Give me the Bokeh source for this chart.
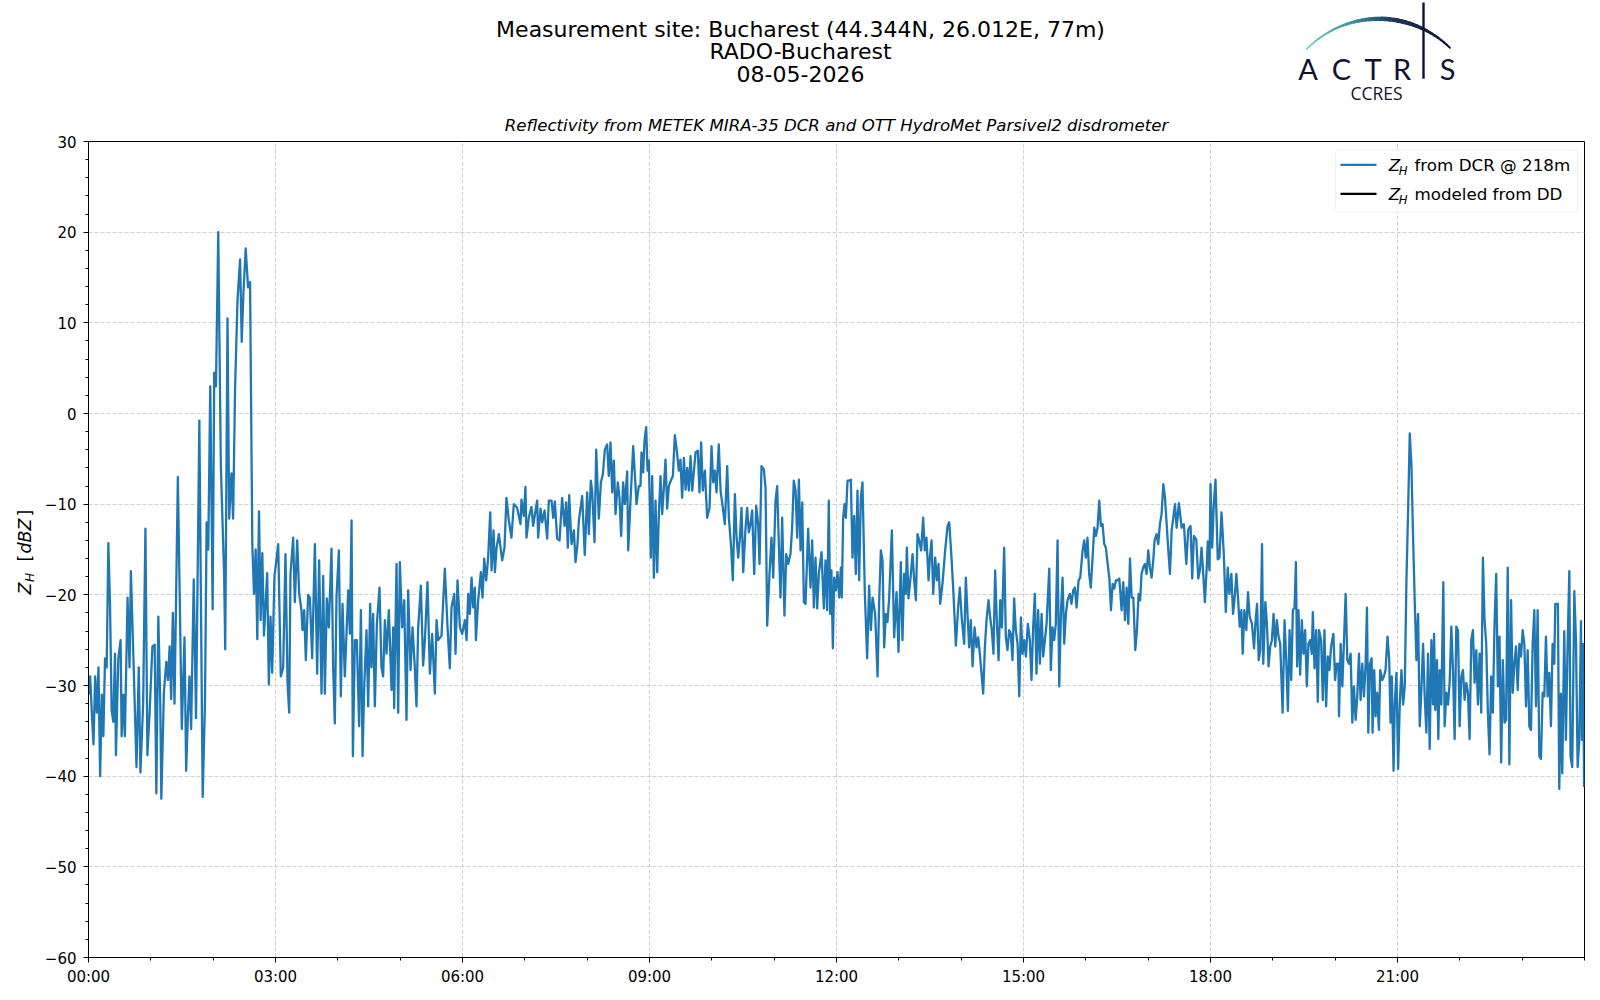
import numpy as np
from bokeh.plotting import figure
from bokeh.models import Range1d, FixedTicker, Label, BoxAnnotation
from bokeh.layouts import column, row
from bokeh.embed import file_html
from bokeh.resources import INLINE
from bokeh.core.properties import value

FONT = "DejaVu Sans"
BLUE = "#1f77b4"

TITLE_LINES = ["Measurement site: Bucharest (44.344N, 26.012E, 77m)", "RADO-Bucharest", "08-05-2026"]
SUBTITLE = "Reflectivity from METEK MIRA-35 DCR and OTT HydroMet Parsivel2 disdrometer"
LEGEND_TEXTS = ["from DCR @ 218m", "modeled from DD"]
LEGEND_COLORS = [BLUE, "black"]

X_TICKS = [0, 3, 6, 9, 12, 15, 18, 21]
X_LABELS = ["00:00", "03:00", "06:00", "09:00", "12:00", "15:00", "18:00", "21:00"]
X_MINOR = list(range(0, 25))
Y_TICKS = [-60, -50, -40, -30, -20, -10, 0, 10, 20, 30]
Y_LABELS = ["\u221260", "\u221250", "\u221240", "\u221230", "\u221220", "\u221210", "0", "10", "20", "30"]
Y_MINOR = list(range(-60, 31, 2))

# ---- Z_H from DCR, time in minutes of day ----
T_00_03 = [0, 1.6, 3.2, 4.8, 6.4, 8, 9.6, 11.2, 12.8, 14.3,
           15.9, 17.5, 19.1, 20.7, 22.3, 23.9, 25.5, 26.4, 28.7, 30.9,
           31.9, 33.5, 35, 37.6, 39.5, 40.8, 43, 46.2, 48.4, 50,
           52.6, 54.8, 56.7, 58.9, 61.5, 63.7, 65.3, 67.2, 69.1, 70.1,
           72.6, 74.9, 76.5, 78.1, 79.6, 81.2, 82.8, 86, 89.8, 92.4,
           94, 95.6, 97.2, 98.8, 101.3, 103.5, 106.7, 109.9, 112.1, 113.7,
           115.3, 117.2, 119.5, 121, 122.7, 124.9, 127.4, 130.6, 131.6, 133.8,
           135.4, 137.6, 139.2, 141.1, 143.4, 145.9, 147.5, 149.1, 151.3, 153.6,
           155.5, 157.7, 159.3, 160.9, 162.5, 164.1, 165.7, 167.3, 168.9, 172,
           173.6, 175.2, 176.8, 179]
Z_00_03 = [-31, -29, -33, -36.5, -29, -33, -28, -40, -31, -35.6,
           -27, -28, -14.3, -21, -32.8, -34, -26.5, -37.7, -27, -25,
           -35.6, -31, -35.6, -20.3, -28, -17.4, -26, -39, -28, -39.6,
           -32, -12.7, -37.7, -32.8, -25.7, -25.5, -41.9, -22.4, -32, -42.5,
           -30.7, -27.4, -29.4, -25.7, -31.5, -22, -32, -7, -34.8, -24.7,
           -39.4, -33.6, -29, -34.8, -18.3, -33.6, -0.8, -42.3, -32, -12,
           -15, 3, -21.6, 4.5, 3, 20, -5.8, -18, -26, 10.5,
           -11.6, -6.6, -11.6, 2.9, 12.4, 17, 7.9, 13.2, 18.2, 13.9,
           14.5, -14.5, -19.9, -15, -24.9, -10.8, -22.8, -15.4, -24.5, -17.6,
           -29.9, -22.4, -28.6, -18]

T_03_06 = [182.6, 185.1, 187.4, 189.6, 191.6, 193.2, 194.4, 197, 198.6, 200.9,
           202.8, 205, 206, 207.6, 209.2, 211.4, 213.1, 215.3, 217.9, 220.1,
           222, 224.3, 225.9, 227.5, 229.4, 231.3, 233.9, 235.5, 237.1, 238.7,
           241, 242.9, 244.5, 246.7, 248.4, 250, 251.6, 253.2, 254.5, 256.4,
           258.3, 260.5, 262.2, 263.8, 265.4, 267.6, 269.2, 271.1, 272.4, 274,
           275.6, 277.6, 280.1, 282, 283.6, 285.3, 286.9, 289.1, 291.7, 293.3,
           294.2, 296.5, 298.1, 299.7, 301.9, 303.9, 306.1, 307.7, 310, 311.9,
           314.1, 315.7, 317.3, 319.9, 322.1, 323.8, 326.3, 328.6, 330.8, 333.4,
           335, 336.6, 339.8, 343, 345.6, 347.8, 349.4, 352, 353.3, 355.2,
           357.5, 359.7, 362.3, 363.9, 365.5, 367.1, 368.7, 370.3, 371.9, 372.9,
           375.1, 377.7, 379.3, 380.9, 382.8, 384.7, 386.7, 388, 389.9, 391.2,
           392.8]
Z_03_06 = [-14.4, -29, -28, -15.5, -29.8, -33, -17.7, -13.7, -20.8, -14,
           -19.9, -21.7, -23.9, -21.7, -27.2, -20, -20.3, -27, -14.4, -28.7,
           -16.2, -30.9, -17.9, -30.9, -20.4, -23.6, -14.9, -28, -34.2, -20.3,
           -15.1, -31.2, -21, -29, -24.1, -19.5, -24.3, -11.8, -37.8, -25,
           -25, -34.5, -21.7, -37.8, -30.1, -23.9, -32.3, -21, -28, -22.1,
           -32.3, -23.2, -19.2, -28, -29, -22.8, -26.5, -21.7, -30.5, -23.6,
           -32.5, -16.6, -33, -16.4, -23.6, -20.6, -33.8, -19.5, -28.3, -23.6,
           -28, -32.3, -23.7, -19, -27.8, -25, -18.6, -28.7, -24.3, -30.9,
           -22.8, -25, -24.5, -17.1, -23.6, -28.1, -21.4, -19.9, -26.5, -18.4,
           -23.6, -24.3, -22.8, -25, -19.9, -22.1, -18.1, -21.4, -19.2, -25,
           -20.6, -17.5, -20.3, -16, -18.4, -15.9, -10.9, -17.3, -12.9, -17.5,
           -14.8]

T_06_12 = [395, 398.2, 400.4, 402.3, 404.6, 407.1, 409.4, 412.6, 415.8, 416.8,
           419, 420.6, 421.6, 423.8, 426.4, 428, 430.3, 431.9, 432.8, 435.1,
           436.7, 439, 441.5, 443.1, 445.7, 447.3, 448.9, 451.1, 453.4, 455.9,
           458.2, 459.8, 461.4, 462.7, 464.9, 467.2, 468.8, 470.7, 472, 475.2,
           477.7, 480, 481.6, 483.5, 484.8, 487.1, 488.7, 491.2, 493.2, 495.1,
           497, 499.2, 500.8, 502.5, 504.1, 505.7, 507.3, 509.5, 511.1, 512.7,
           514.6, 516.3, 518.5, 519.5, 521.7, 524.3, 525.9, 527.5, 529.7, 531.3,
           532.3, 533.9, 535.2, 536.8, 538.1, 539.4, 541.3, 542.6, 544.2, 545.8,
           547.4, 549, 550.6, 552.2, 553.8, 555.4, 557, 558.6, 560.9, 562.5,
           564.4, 566, 568.2, 569.8, 571.4, 573.1, 574.7, 576.3, 577.9, 579.5,
           581.1, 584.3, 586.5, 588.1, 589.7, 591.3, 593.3, 595.5, 597.8, 599.7,
           601.3, 602.9, 604.5, 606.7, 608.4, 610.6, 612.5, 614.8, 616.4, 618.6,
           620.2, 622.2, 623.8, 625.4, 627, 628.6, 630.2, 632.4, 634, 635.6,
           637.2, 638.8, 640.8, 642.7, 644.6, 645.9, 647.8, 650.1, 651.7, 653.3,
           655.5, 657.4, 659.1, 661.3, 662.9, 664.5, 666.1, 667.7, 669.9, 671.6,
           673.5, 675.7, 677.3, 678.9, 680.6, 682.2, 683.8, 685.4, 687, 688.6,
           690.2, 692.7, 695, 696.6, 698.2, 699.8, 701.4, 703, 705.6, 707.8,
           709.4, 711, 712.6]
Z_06_12 = [-13.3, -16.2, -14.8, -9.3, -11.8, -13.7, -10, -10.4, -12.2, -9.5,
           -11.3, -8.1, -13.7, -11.5, -10.3, -12.4, -10.7, -9.6, -13.7, -10.5,
           -12, -10.7, -13.8, -9.6, -9.6, -11.5, -9.7, -13.8, -14, -9.3,
           -12.4, -9.8, -14.8, -9, -14.4, -12.9, -16.4, -14.4, -11.8, -9.1,
           -15.6, -8.7, -13.3, -7.4, -8.5, -14.2, -4, -11.6, -7.6, -6.7,
           -4, -3.4, -6.9, -3.2, -8.7, -5.2, -11.1, -7.6, -9.3, -13.5,
           -7.6, -10, -6.4, -15.1, -9.6, -3.6, -6.7, -10, -8, -8,
           -4.3, -6.5, -3, -1.5, -6.3, -5.2, -15.9, -6.9, -18.1, -9.6,
           -17.5, -11.1, -6.9, -11.1, -8.2, -5.1, -10.5, -8, -7.3, -6.9,
           -2.4, -3.8, -6.3, -5.1, -9.3, -4.9, -8.4, -6, -8.5, -4.7,
           -8.5, -4.3, -4.1, -8.7, -3.2, -8.5, -6.3, -11.5, -10.4, -3.6,
           -7.6, -6.3, -8.7, -3.4, -8.5, -10.4, -12.2, -5.8, -11.5, -14.8,
           -18.4, -8.9, -13.7, -15.9, -13.7, -10.4, -17.5, -12.7, -10.4, -13.1,
           -12.2, -10.7, -17.7, -10.2, -12.2, -16.6, -5.8, -6.2, -8.2, -23.4,
           -17.7, -13.7, -18.1, -9.6, -8, -14.4, -20.3, -11.5, -22.3, -15.5,
           -16.6, -15.5, -12.6, -7.4, -8.5, -13.7, -7.3, -15.1, -9.8, -20.8,
           -21, -12.7, -19.2, -14, -21.4, -15.9, -21.5, -17.7, -15.3, -21.5,
           -16.2, -21.7, -9.6]

T_12_17 = [713.9, 715.1, 716.5, 717.8, 719.4, 721, 722.6, 724.2, 725.1, 726.4,
           727.7, 729, 730.6, 732.2, 733.8, 735.4, 737, 738.6, 740.2, 741.8,
           743.4, 745, 747.3, 749.5, 751.4, 753.1, 754.7, 757.2, 759.5, 761.1,
           762.7, 764.3, 765.9, 767.5, 769.1, 770.7, 773.3, 775.5, 777.8, 779.7,
           781.9, 783.5, 785.1, 786.7, 787.7, 789.3, 791.6, 793.2, 794.8, 796.4,
           798, 799.6, 801.5, 803.4, 805, 806.6, 808.6, 809.9, 811.5, 813.1,
           815, 816.6, 818.2, 819.8, 822, 824.6, 826.9, 828.5, 830.7, 832.6,
           834.9, 837.1, 838.7, 840.7, 842.9, 844.5, 846.1, 847.7, 849.3, 851,
           852.9, 854.8, 856.4, 858, 859.6, 861.2, 862.8, 864.4, 866.3, 867.9,
           869.5, 871.1, 872.7, 874.4, 876, 877.6, 879.2, 881.4, 883, 884.6,
           886.2, 887.8, 889.4, 891, 892.6, 894.3, 895.9, 897.5, 899.1, 900.7,
           902.3, 904.2, 906.1, 907.7, 909.3, 910.9, 912.5, 914.1, 915.8, 917.4,
           919, 920.6, 922.2, 924.8, 926.3, 927.9, 929.5, 931.1, 932.8, 934.4,
           936, 937.6, 939.2, 940.8, 942.4, 944.6, 946.2, 947.8, 949.4, 951.1,
           953, 954.6, 956.9, 958.4, 960, 961.6, 963.2, 964.8, 966.5, 968.1,
           969.7, 971.3, 972.9, 974.5, 976.1, 977.7, 979.3, 981, 982.6, 984.2,
           985.8, 987.4, 989, 990.6, 992.2, 994.4, 996, 997.7, 999.3, 1000.9,
           1002.5, 1004.1, 1005.7, 1007.6, 1009.2, 1010.8, 1012.3, 1013.6, 1015.2, 1016.8,
           1018.5, 1020.1, 1021.7, 1023.3, 1024.9, 1026.2, 1028.1, 1029.7, 1031.3, 1032.9,
           1034.6, 1036.2, 1037.8, 1039.4, 1041, 1042.6, 1044.2, 1045.8, 1047.4]
Z_12_17 = [-22.1, -17.3, -25.9, -18.1, -19.5, -17.5, -20.3, -17, -20.3, -11.5,
           -10, -11.5, -7.4, -7.4, -7.3, -15.9, -11.3, -17.7, -8.5, -18.4,
           -9.3, -7.6, -19.9, -27, -19, -23.9, -20.3, -22.1, -29, -20.6,
           -15.1, -16.2, -25.8, -22.1, -23, -20.3, -12.9, -24.7, -19.7, -26.3,
           -16.4, -25, -17.7, -19.9, -14.8, -20.4, -17.7, -15.5, -18.4, -20.6,
           -13.3, -14, -15.1, -11.5, -15.1, -13.7, -18.4, -15.9, -14, -19.9,
           -15.9, -18.4, -16.6, -21, -18.8, -15.1, -12.4, -12, -15.9, -19.9,
           -25.6, -21.4, -19.2, -22.8, -25.4, -18.1, -22.1, -25.8, -22.8, -27.9,
           -23.6, -25.8, -24.7, -26.5, -28.7, -30.9, -25.8, -22.8, -20.6, -22.5,
           -23.9, -26.5, -17.3, -23.2, -27.2, -20.6, -23.6, -14.8, -24.7, -26.1,
           -23.9, -24.3, -27.2, -20.4, -23.9, -25.4, -31.2, -22.5, -26.5, -25,
           -26.8, -23.2, -25, -29.4, -23.6, -19.9, -28.7, -21.7, -27.6, -22.1,
           -26.8, -25, -23.2, -17.1, -28.3, -23.6, -25, -23.2, -14, -30.1,
           -22.1, -18.1, -25.4, -22.1, -20.6, -19.9, -21, -19.5, -19.2, -21.4,
           -18.4, -18.1, -15.1, -14, -15.9, -13.7, -17.7, -19.2, -15.9, -12.6,
           -13.5, -12.6, -9.6, -12.4, -12.2, -14.4, -14.8, -16.6, -18.1, -21.7,
           -18.8, -19.3, -18.4, -18.4, -18.2, -21.7, -18.6, -22.8, -19.2, -23.2,
           -16, -20.3, -20.3, -26.1, -23.9, -19.9, -20.6, -17.7, -17, -16.6,
           -17.7, -15.1, -17, -18.1, -16.2, -14, -13.3, -14.4, -12.2, -11.1,
           -7.8, -9.3, -12.2, -15.1, -17.7, -12.9, -11.5, -10, -12.6]

T_17_24 = [1049.6, 1052.2, 1054.4, 1056.7, 1058.6, 1060.8, 1062.4, 1064, 1066.3, 1068.2,
           1069.8, 1071.4, 1073, 1074.6, 1076.2, 1077.4, 1079, 1080, 1081.6, 1083.2,
           1084.8, 1087, 1088.6, 1090.6, 1092.8, 1094.7, 1096.6, 1098.2, 1100.1, 1101.7,
           1103.3, 1104.9, 1106.5, 1108.1, 1109.7, 1111, 1112.6, 1114.5, 1116.1, 1117.7,
           1119.9, 1121.9, 1123.2, 1124.8, 1126.4, 1128, 1129.6, 1130.8, 1132.8, 1134.3,
           1135.9, 1137.5, 1139.1, 1140.7, 1142.3, 1143.9, 1145.5, 1147.1, 1149.4, 1151.3,
           1152.9, 1154.5, 1156.1, 1157.7, 1159.3, 1160.9, 1162.2, 1163.4, 1164.7, 1166.3,
           1167.9, 1169.5, 1171.1, 1172.7, 1174.3, 1175.9, 1177.5, 1178.5, 1180.1, 1181.7,
           1183.3, 1184.5, 1186.5, 1188.1, 1189.7, 1191.3, 1192.9, 1194.5, 1196.1, 1198.3,
           1199.9, 1201.5, 1203.1, 1203.7, 1205.3, 1206.9, 1208.5, 1210.1, 1211.7, 1213.3,
           1214.9, 1216.5, 1218.1, 1219.7, 1221.3, 1222.9, 1224.5, 1226.1, 1227.7, 1229.3,
           1230.6, 1231.9, 1233.5, 1235.1, 1236, 1237.6, 1238.9, 1240.5, 1242.1, 1243.4,
           1245.3, 1246.9, 1248.5, 1250.4, 1252, 1253.3, 1254.5, 1256.2, 1257.4, 1259,
           1260.6, 1262.2, 1263.8, 1265.4, 1267, 1268.6, 1270.2, 1271.8, 1273.4, 1275,
           1276.6, 1278.2, 1279.8, 1281.4, 1283, 1284.6, 1286.2, 1287.8, 1289.4, 1291,
           1292.6, 1294.2, 1295.2, 1296.4, 1298, 1299.3, 1300.6, 1302.2, 1304.1, 1305.4,
           1307, 1308.6, 1310.2, 1311.8, 1313.4, 1315, 1316.6, 1318.2, 1319.8, 1321.4,
           1323, 1324.6, 1326.2, 1327.8, 1329.4, 1331, 1332.6, 1334.2, 1335.8, 1337.4,
           1339, 1340.6, 1342.2, 1343.8, 1345.4, 1347, 1348.6, 1350.2, 1351.8, 1353.4,
           1355, 1356.6, 1358.2, 1359.8, 1361.4, 1363, 1364.5, 1366.1, 1367.7, 1369.3,
           1370.9, 1372.5, 1374.1, 1375.7, 1377.3, 1378.9, 1380.5, 1382.1, 1383.7, 1385.3,
           1386.9, 1388.5, 1390.1, 1391.7, 1393.3, 1394.9, 1396.5, 1398.1, 1399.7, 1401.3,
           1402.9, 1404.5, 1406.1, 1407.7, 1409.3, 1410.9, 1411.9, 1414.4, 1415.7, 1417.3,
           1418.6, 1420.5, 1422.1, 1423.7, 1425.4, 1426.6, 1428.2, 1430.2, 1431.8, 1433.4,
           1435, 1436.6, 1437.6, 1438.6, 1439.6]
Z_17_24 = [-9.9, -12.6, -12.2, -16.6, -12.8, -12.4, -18.2, -13.5, -13.9, -18.2,
           -17.3, -14.8, -17.7, -20.8, -17.3, -14.1, -17.3, -7.8, -14.8, -10,
           -7.3, -16.1, -15.9, -10.9, -15.5, -21.9, -17, -19.9, -17.7, -22.1,
           -20.3, -17.7, -20.3, -23.5, -21.7, -26.5, -21.7, -23.9, -19.7, -22.4,
           -23.2, -25.9, -23.2, -21, -27.2, -26.1, -14.4, -27.6, -20.8, -23.2,
           -27.9, -25.7, -25, -22.1, -25.7, -22.8, -24.6, -25.4, -33, -22.8,
           -27.2, -32.8, -23.9, -29.4, -21.7, -21.4, -16.4, -27.9, -21.7, -28.8,
           -22.8, -26.5, -23.9, -30.1, -25.4, -25, -26.5, -21.9, -28.1, -23.9,
           -31.8, -23.9, -25, -31.6, -23.9, -32.3, -26.8, -28.3, -25.7, -24.3,
           -29.4, -27.6, -27.6, -33.4, -25.4, -30.1, -25, -19.9, -27.2, -27.6,
           -26.5, -34.1, -30.1, -33.8, -31.2, -26.5, -31.6, -27.6, -31.2, -27.6,
           -21.4, -35.2, -27.6, -27, -35.2, -28.3, -33.4, -30.8, -34.9, -28.3,
           -29.4, -29, -28.3, -24.6, -27.2, -34.1, -29, -39.4, -31.9, -28.6,
           -39.2, -31.9, -28.3, -32.1, -30.1, -18.4, -10.8, -2.2, -5.7, -13.7,
           -20.8, -27.2, -22.1, -34.5, -30.5, -25.4, -31.2, -35.2, -26.5, -37,
           -25, -32.1, -24.3, -32.7, -27.2, -35.9, -28.3, -32.1, -18.6, -34.5,
           -30.8, -32.1, -29.7, -23.5, -28.3, -35.9, -23.5, -23.9, -34.5, -29,
           -28.3, -31.6, -29.7, -30.8, -35.9, -25, -23.9, -29.7, -26.1, -32.1,
           -26.5, -33, -15.9, -22.8, -25.4, -33, -37.6, -29, -33, -23.2,
           -17.7, -30.1, -24.6, -38.5, -27.2, -34.1, -33.8, -17, -38.7, -20.6,
           -30.8, -27.6, -25.7, -30.5, -25.4, -26.8, -23.9, -25.4, -32.3, -26.1,
           -34.5, -34.9, -25.4, -21.7, -32.3, -21.7, -37.8, -38.1, -30.8, -31.2,
           -24.6, -31.2, -28.6, -34.5, -25.4, -27.6, -21, -21, -41.4, -30.9,
           -39.7, -24, -36, -25.8, -17.4, -37.9, -39, -19.6, -25.1, -39,
           -36, -22.9, -36, -25.4, -41.2]

SEGMENTS = [(T_00_03, Z_00_03), (T_03_06, Z_03_06), (T_06_12, Z_06_12),
            (T_12_17, Z_12_17), (T_17_24, Z_17_24)]
for i, (tt, zz) in enumerate(SEGMENTS):
    assert len(tt) == len(zz), f"segment {i}: {len(tt)} vs {len(zz)}"
minutes = [t for tt, _ in SEGMENTS for t in tt]
zh = [z for _, zz in SEGMENTS for z in zz]
hours = [m / 60.0 for m in minutes]

# ---------------- page geometry (pixels; the page itself has no margin) ----------------
PAGE_W, PAGE_H = 1600, 1000
HDR_H = 135
YL_W = 40
FX0, FY0, FW, FH = 88, 141, 1496, 816          # plot frame in page px
B_TOP, B_BOTTOM, B_RIGHT = FY0 - HDR_H, 40, PAGE_W - FX0 - FW
X0, X1, Y0, Y1 = 0, 24, -60, 30
MID = 0.36   # distance baseline -> text middle, in em


def hx(px):
    return X0 + (px - FX0) / FW * (X1 - X0)


def vy(py):
    return Y1 - (py - FY0) / FH * (Y1 - Y0)


def bare(fig):
    fig.grid.visible = False
    fig.background_fill_color = "white"
    fig.border_fill_color = "white"
    return fig


# ---------------- header (titles + logo), coordinates = page pixels ----------------
hdr = bare(figure(frame_width=FW, frame_height=HDR_H, min_border_left=FX0, min_border_right=B_RIGHT,
                  min_border_top=0, min_border_bottom=0,
                  x_range=Range1d(FX0, FX0 + FW), y_range=Range1d(HDR_H, 0),
                  toolbar_location=None, output_backend="svg",
                  x_axis_location=None, y_axis_location=None, outline_line_color=None))

hdr.text(x=[800, 800, 800], y=[36.7 - MID * 22, 59.3 - MID * 22, 81.7 - MID * 22], text=TITLE_LINES,
         text_align="center", text_baseline="middle",
         text_font=value(FONT), text_font_size="22px", text_color="black")
hdr.text(x=[FX0 + FW / 2], y=[125.4], text=[SUBTITLE], text_align="center",
         text_baseline="middle", text_font=value(FONT), text_font_size="16.6px",
         text_font_style="italic", text_color="black")

# logo arc with colour gradient
cx, cy, R = 1378.5, 119.6, 101.3
angs = np.radians(np.linspace(135.6, 45.6, 41))
ax_ = cx + R * np.cos(angs)
ay_ = cy - R * np.sin(angs)
stops = [(0.0, (120, 204, 198)), (0.35, (58, 150, 162)), (0.62, (28, 52, 88)), (1.0, (16, 16, 48))]


def grad(t):
    for (t0, c0), (t1, c1) in zip(stops[:-1], stops[1:]):
        if t <= t1:
            f = (t - t0) / (t1 - t0)
            c = [int(round(a + (b - a) * f)) for a, b in zip(c0, c1)]
            return "#%02x%02x%02x" % tuple(c)
    return "#%02x%02x%02x" % stops[-1][1]


xs, ys, cols, wids = [], [], [], []
n = len(angs) - 1
for i in range(n):
    t = (i + 0.5) / n
    xs.append([ax_[i], ax_[i + 1]])
    ys.append([ay_[i], ay_[i + 1]])
    cols.append(grad(t))
    wids.append(1.5 + 3.0 * np.exp(-((t - 0.58) / 0.3) ** 2))
hdr.multi_line(xs=xs, ys=ys, line_color=cols, line_width=wids, line_cap="round")
hdr.line(x=[1423, 1423], y=[2, 78.3], line_color="#121232", line_width=2.4)
LOGO_LETTERS = ["A", "C", "T", "R", "S"]
LOGO_X = [1307.5, 1341, 1372.5, 1401.5, 1447]
hdr.text(x=LOGO_X, y=[78.3 - MID * 29] * 5, text=LOGO_LETTERS, text_align="center",
         text_baseline="middle", text_font=value("Lato"), text_font_size="29px",
         text_color="#121232")
hdr.text(x=[1376], y=[98.3 - MID * 17.5], text=["CCRES"], text_align="center", text_baseline="middle",
         text_font=value("Open Sans"), text_font_size="17.5px", text_color="#121232")

# ---------------- y-axis label strip (x = page px, y = PAGE_H - page px) ----------------
yl = bare(figure(frame_width=YL_W, frame_height=FH, min_border_left=0, min_border_right=0,
                 min_border_top=B_TOP, min_border_bottom=B_BOTTOM,
                 x_range=Range1d(0, YL_W), y_range=Range1d(PAGE_H - FY0 - FH, PAGE_H - FY0),
                 toolbar_location=None, output_backend="svg",
                 x_axis_location=None, y_axis_location=None, outline_line_color=None))
# (text, baseline x, start y, font size px, style)
YL_PARTS = [("Z", 30.5, 594.0, 17.5, "italic"),
            ("H", 33.8, 581.5, 12.2, "italic"),
            ("[", 30.5, 561.0, 17.5, "normal"),
            ("dBZ", 30.5, 553.0, 17.5, "italic"),
            ("]", 30.5, 516.0, 17.5, "normal")]
for txt, px, py, fs, style in YL_PARTS:
    yl.text(x=[px - MID * fs], y=[PAGE_H - py], text=[txt], angle=np.pi / 2, text_align="left",
            text_baseline="middle", text_font=value(FONT), text_font_size=f"{fs}px",
            text_font_style=style, text_color="black")

# ---------------- main plot ----------------
p = figure(frame_width=FW, frame_height=FH, x_range=Range1d(X0, X1), y_range=Range1d(Y0, Y1),
           toolbar_location=None, output_backend="svg",
           min_border_left=FX0 - YL_W, min_border_right=B_RIGHT,
           min_border_top=B_TOP, min_border_bottom=B_BOTTOM)
p.background_fill_color = "white"
p.border_fill_color = "white"
p.outline_line_color = "black"
p.outline_line_width = 1
p.outline_line_alpha = 1

p.line(hours, zh, line_color=BLUE, line_width=2.3, line_join="round")

p.xaxis.ticker = FixedTicker(ticks=X_TICKS, minor_ticks=X_MINOR)
p.xaxis.major_label_overrides = {t: l for t, l in zip(X_TICKS, X_LABELS)}
p.yaxis.ticker = FixedTicker(ticks=Y_TICKS, minor_ticks=Y_MINOR)
p.yaxis.major_label_overrides = {t: l for t, l in zip(Y_TICKS, Y_LABELS)}
for ax in (p.xaxis[0], p.yaxis[0]):
    ax.axis_line_color = "black"
    ax.major_tick_line_color = "black"
    ax.minor_tick_line_color = "black"
    ax.major_tick_out = 5
    ax.major_tick_in = 0
    ax.minor_tick_out = 3
    ax.minor_tick_in = 0
    ax.major_label_text_font = FONT
    ax.major_label_text_font_size = "15px"
    ax.major_label_text_color = "black"
p.xaxis.major_label_standoff = 5
p.yaxis.major_label_standoff = 7

p.xgrid.ticker = FixedTicker(ticks=X_TICKS)
p.ygrid.ticker = FixedTicker(ticks=Y_TICKS)
p.grid.grid_line_color = "#d0d0d0"
p.grid.grid_line_dash = "4 2"
p.grid.grid_line_width = 1

# legend (inside the frame)
box_kw = dict(left=hx(1335), right=hx(1577), top=vy(149.3), bottom=vy(211.7),
              fill_color="white", fill_alpha=0.8, line_color="#cccccc", line_width=1)
try:
    box = BoxAnnotation(border_radius=4, **box_kw)
except Exception:
    box = BoxAnnotation(**box_kw)
p.add_layout(box)

ROW_Y = [164.3, 193.3]
ROW_BASE = [170.7, 199.7]
p.segment(x0=[hx(1340)] * 2, x1=[hx(1376)] * 2, y0=[vy(r) for r in ROW_Y],
          y1=[vy(r) for r in ROW_Y], line_color=LEGEND_COLORS, line_width=2.3, level="overlay")
LEG = dict(text_align="left", text_baseline="middle", text_font=FONT, text_color="black",
           x_units="data", y_units="data")
for base, txt in zip(ROW_BASE, LEGEND_TEXTS):
    p.add_layout(Label(x=hx(1388.3), y=vy(base - MID * 16.7), text="Z", text_font_size="16.7px",
                       text_font_style="italic", **LEG))
    p.add_layout(Label(x=hx(1398.2), y=vy(base + 3.6 - MID * 11.7), text="H", text_font_size="11.7px",
                       text_font_style="italic", **LEG))
    p.add_layout(Label(x=hx(1414), y=vy(base - MID * 16.7), text=txt, text_font_size="16.7px", **LEG))

layout = column(hdr, row(yl, p, spacing=0), spacing=0)
open("out.html", "w").write(file_html(layout, INLINE, title="Reflectivity Bucharest"))
